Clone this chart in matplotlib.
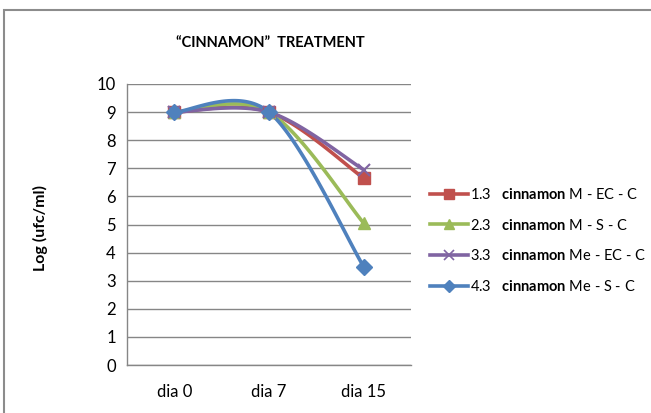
import numpy as np
import matplotlib
matplotlib.use("Agg")
import matplotlib.pyplot as plt
from matplotlib.lines import Line2D
from matplotlib.patches import Rectangle

plt.rcParams['font.family'] = ['Lato', 'DejaVu Sans']
plt.rcParams['mathtext.fontset'] = 'custom'
plt.rcParams['mathtext.bf'] = 'Lato:bold'
plt.rcParams['mathtext.rm'] = 'Lato'

categories = ["dia 0", "dia 7", "dia 15"]
s13 = [9.0, 9.0, 6.65]
s23 = [9.0, 9.0, 5.05]
s33 = [9.0, 9.0, 6.95]
s43 = [9.0, 9.0, 3.5]
series_names = ["1.3", "2.3", "3.3", "4.3"]
series_suffix = ["M - EC - C", "M - S - C", "Me - EC - C", "Me - S - C"]
colors = ["#C0504D", "#9BBB59", "#8064A2", "#4F81BD"]
markers = ["s", "^", "x", "D"]
msizes = [9, 9, 9, 8]
yticks = list(range(0, 11))


def smooth(xs, ys, n=60):
    P = np.column_stack([xs, ys]).astype(float)
    ext = np.vstack([P[0], P, P[-1]])
    out = []
    for i in range(len(P) - 1):
        p0, p3 = P[i], P[i + 1]
        c1 = p0 + (ext[i + 2] - ext[i]) / 6.0
        c2 = p3 - (ext[i + 3] - ext[i + 1]) / 6.0
        t = np.linspace(0, 1, n)[:, None]
        b = ((1 - t) ** 3) * p0 + 3 * ((1 - t) ** 2) * t * c1 + 3 * (1 - t) * t ** 2 * c2 + t ** 3 * p3
        out.append(b if i == 0 else b[1:])
    B = np.vstack(out)
    return B[:, 0], B[:, 1]


fig = plt.figure(figsize=(6.51, 4.13), dpi=100)
fig.patches.append(Rectangle((4 / 651, -0.5), 2.0, 1.5 - 10 / 413, transform=fig.transFigure,
                             fill=False, edgecolor="#8c8c8c", linewidth=1.5))
ax = fig.add_axes([127 / 651, 1 - 365 / 413, 284 / 651, 281 / 413])

x = np.arange(len(categories))
handles = []
for ys, c, m, ms, nm, sf in zip([s13, s23, s33, s43], colors, markers, msizes, series_names, series_suffix):
    sx, sy = smooth(x, ys)
    ax.plot(sx, sy, color=c, linewidth=2.6, solid_capstyle='round', zorder=3)
    if m == "x":
        ax.plot(x, ys, linestyle='none', marker=m, markersize=ms, markeredgewidth=1.5, color=c, zorder=4)
    else:
        ax.plot(x, ys, linestyle='none', marker=m, markersize=ms, color=c, markeredgecolor=c, zorder=4)
    handles.append(Line2D([0], [0], color=c, linewidth=2.6, marker=m,
                          markersize=ms * 0.8, markeredgewidth=1.2 if m == "x" else 1,
                          label=nm + r"   $\bf{cinnamon}$ " + sf))

ax.set_xlim(-0.5, 2.5)
ax.set_ylim(0, 10)
ax.set_yticks(yticks)
ax.set_xticks(x)
ax.set_xticklabels(categories)
ax.tick_params(axis='both', length=0, labelsize=12, labelcolor="#000000")
ax.tick_params(axis='y', pad=8)
ax.tick_params(axis='x', pad=14)
ax.grid(axis='y', color="#868686", linewidth=1)
ax.set_axisbelow(True)
for s in ["top", "right"]:
    ax.spines[s].set_visible(False)
for s in ["left", "bottom"]:
    ax.spines[s].set_color("#868686")
    ax.spines[s].set_linewidth(1)

fig.text(270 / 651, 1 - 43 / 413, "\u201cCINNAMON\u201d  TREATMENT", ha='center', va='center',
         fontsize=10.5, fontweight='bold')
fig.text(40 / 651, 1 - 228 / 413, "Log (ufc/ml)", rotation=90, ha='center', va='center',
         fontsize=11.5, fontweight='bold')

leg = fig.legend(handles=handles, loc='upper left', bbox_to_anchor=(424 / 651, 1 - 181 / 413),
                 frameon=False, fontsize=10.5, handlelength=2.6, labelspacing=1.08,
                 handletextpad=0.15, borderaxespad=0)

fig.savefig("out.png", dpi=100)
